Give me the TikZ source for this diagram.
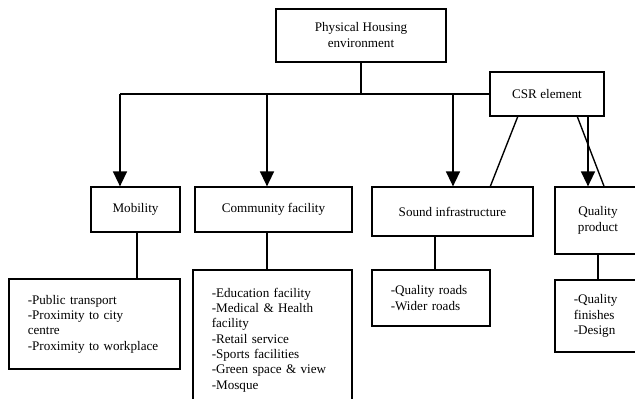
\documentclass[tikz,border=0pt]{standalone}
\usepackage{fontspec}
\setmainfont{Liberation Serif}
\usetikzlibrary{arrows.meta,calc}

\begin{document}
\begin{tikzpicture}[x=0.8pt,y=-0.8pt,
  box/.style={draw,line width=0.9pt,align=center,inner sep=2pt,font=\fontsize{10.5}{12.8}\selectfont},
  listbox/.style={draw,line width=0.9pt,align=left,inner xsep=15pt,inner ysep=2pt,font=\fontsize{10.5}{12.3}\selectfont},
  stem/.style={line width=1.5pt},
  arr/.style={line width=1.7pt,-{Triangle[length=12pt,width=11pt]}},
  slant/.style={line width=1.1pt}]
\useasboundingbox (0,0) rectangle (635,398);
\clip (0,0) rectangle (635,398);
% Top and CSR boxes
\node[box,minimum width=136pt,minimum height=42.4pt] (top) at (361,35.5) {Physical Housing\\environment};
\node[box,minimum width=91.2pt,minimum height=35.2pt] (csr) at (547,94) {CSR element};
% Second level
\node[box,minimum width=71.2pt,minimum height=36pt] (mob) at (135.5,209.5) {Mobility};
\node[box,minimum width=125.6pt,minimum height=36pt] (com) at (273.5,209.5) {Community facility};
\node[box,minimum width=128.8pt,minimum height=39.2pt] (snd) at (452.5,211.5) {Sound infrastructure};
\node[box,minimum width=68.8pt,minimum height=53.6pt] (qp) at (598,220.5) {Quality\\product};
% Lists
\node[listbox,text width=106.8pt,minimum height=72pt] (mobl) at (94.5,324) {-Public transport\\-Proximity to city\\centre\\-Proximity to workplace};
\node[listbox,text width=97.2pt,minimum height=112pt] (coml) at (272.5,340) {-Education facility\\-Medical \& Health\\facility\\-Retail service\\-Sports facilities\\-Green space \& view\\-Mosque};
\node[listbox,text width=64.4pt,minimum height=44.8pt] (sndl) at (431,298) {-Quality roads\\-Wider roads};
\node[listbox,text width=50pt,minimum height=57.6pt] (qpl) at (605,316) {-Quality\\finishes\\-Design};
% Connectors
\coordinate (hub) at (top.south |- csr.west);
\draw[stem] (top.south) -- (hub);
\foreach \x/\b in {120/mob,267/com,453/snd} {\coordinate (t-\b) at (\x,94);}
\draw[stem] (t-mob) -- (csr.west);
\foreach \b in {mob,com,snd} {\draw[arr] (t-\b) -- (t-\b |- \b.north);}
\coordinate (t-qp) at (588,116);
\draw[arr] (t-qp |- csr.south) -- (t-qp |- qp.north);
\draw[slant] ($(csr.south west)!0.246!(csr.south east)$) -- ($(snd.north west)!0.733!(snd.north east)$);
\draw[slant] ($(csr.south west)!0.763!(csr.south east)$) -- ($(qp.north west)!0.57!(qp.north east)$);
% Stems to lists
\coordinate (s-mob) at ($(mob.south west)!0.52!(mob.south east)$);
\draw[stem] (s-mob) -- (s-mob |- mobl.north);
\draw[stem] (t-com |- com.south) -- (t-com |- coml.north);
\coordinate (s-snd) at ($(snd.south west)!0.39!(snd.south east)$);
\draw[stem] (s-snd) -- (s-snd |- sndl.north);
\draw[stem] (qp.south) -- (qp.south |- qpl.north);
\end{tikzpicture}
\end{document}
